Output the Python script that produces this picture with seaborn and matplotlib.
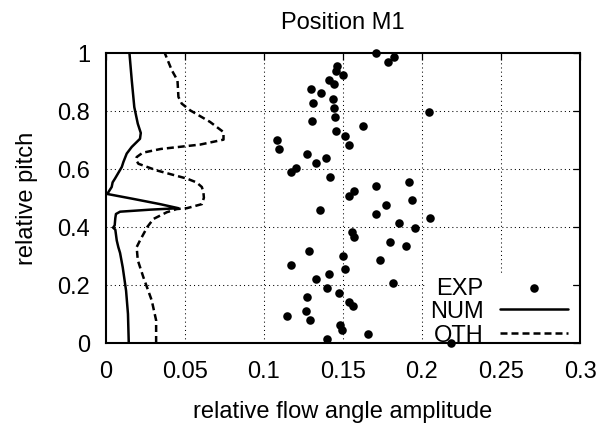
import matplotlib
matplotlib.use('Agg')
import matplotlib.pyplot as plt
import seaborn as sns

# ---- data ----
exp_pitch = [0.000, 0.015, 0.031, 0.046, 0.063, 0.078, 0.094, 0.110, 0.126, 0.142,
             0.157, 0.173, 0.189, 0.206, 0.222, 0.236, 0.254, 0.269, 0.286, 0.301,
             0.317, 0.333, 0.349, 0.364, 0.381, 0.396, 0.412, 0.429, 0.444, 0.459,
             0.476, 0.492, 0.507, 0.523, 0.540, 0.555, 0.573, 0.588, 0.604, 0.619,
             0.636, 0.651, 0.667, 0.683, 0.699, 0.714, 0.731, 0.746, 0.763, 0.778,
             0.794, 0.810, 0.826, 0.841, 0.859, 0.873, 0.890, 0.905, 0.923, 0.936,
             0.955, 0.968, 0.985, 1.000]
exp_amp = [0.2185, 0.1400, 0.1661, 0.1497, 0.1484, 0.1292, 0.1147, 0.1267, 0.1562, 0.1541,
           0.1277, 0.1478, 0.1402, 0.1818, 0.1332, 0.1413, 0.1514, 0.1172, 0.1737, 0.1499,
           0.1288, 0.1902, 0.1796, 0.1569, 0.1558, 0.1957, 0.1858, 0.2054, 0.1712, 0.1358,
           0.1775, 0.1938, 0.1540, 0.1573, 0.1712, 0.1916, 0.1417, 0.1172, 0.1204, 0.1332,
           0.1394, 0.1273, 0.1094, 0.1541, 0.1083, 0.1514, 0.1459, 0.1628, 0.1303, 0.1452,
           0.2047, 0.1446, 0.1313, 0.1438, 0.1362, 0.1300, 0.1446, 0.1415, 0.1503, 0.1459,
           0.1463, 0.1786, 0.1824, 0.1712]

num_pitch = [0.0, 0.10, 0.18, 0.26, 0.31, 0.33, 0.353, 0.39, 0.397, 0.405, 0.43, 0.444,
             0.452, 0.459, 0.464, 0.478, 0.496, 0.513, 0.537, 0.553, 0.566, 0.606, 0.623,
             0.652, 0.675, 0.703, 0.723, 0.755, 0.812, 0.904, 1.0]
num_amp = [0.0147, 0.0142, 0.0130, 0.0109, 0.0092, 0.0081, 0.0071, 0.0062, 0.0048, 0.0058,
           0.0062, 0.0066, 0.0092, 0.0282, 0.0461, 0.0345, 0.0176, 0.0011, 0.0039, 0.0045,
           0.0060, 0.0103, 0.0113, 0.0134, 0.0166, 0.0218, 0.0223, 0.0204, 0.0182, 0.0166,
           0.0151]

oth_pitch = [0.0, 0.078, 0.147, 0.227, 0.285, 0.33, 0.353, 0.40, 0.427, 0.45, 0.461, 0.464,
             0.478, 0.50, 0.519, 0.537, 0.553, 0.566, 0.594, 0.617, 0.630, 0.640, 0.655,
             0.668, 0.683, 0.700, 0.726, 0.761, 0.801, 0.824, 0.847, 0.904, 0.939, 0.995, 1.0]
oth_amp = [0.0320, 0.0320, 0.0292, 0.0239, 0.0204, 0.0197, 0.0218, 0.0265, 0.0303, 0.0387,
           0.0450, 0.0514, 0.0609, 0.0622, 0.0619, 0.0609, 0.0575, 0.0514, 0.0324, 0.0208,
           0.0193, 0.0197, 0.0235, 0.0350, 0.0598, 0.0746, 0.0746, 0.0661, 0.0535, 0.0482,
           0.0461, 0.0455, 0.0419, 0.0377, 0.0374]

x_ticks = [0, 0.05, 0.1, 0.15, 0.2, 0.25, 0.3]
x_tick_labels = ['0', '0.05', '0.1', '0.15', '0.2', '0.25', '0.3']
y_ticks = [0, 0.2, 0.4, 0.6, 0.8, 1]
y_tick_labels = ['0', '0.2', '0.4', '0.6', '0.8', '1']

# ---- style ----
sns.set_theme(style='white')
plt.rcParams['font.family'] = ['Liberation Sans', 'DejaVu Sans']
plt.rcParams.update({'text.color': 'black', 'axes.labelcolor': 'black',
                     'xtick.color': 'black', 'ytick.color': 'black'})
FS = 17

fig = plt.figure(figsize=(6.05, 4.27), dpi=100)
ax = fig.add_axes([0.1744, 0.1944, 0.7843, 0.6803])

# grid (below everything)
for xv in x_ticks[1:-1]:
    ax.axvline(xv, color='black', lw=0.75, ls=(0, (1, 3)), zorder=0.5)
for yv in y_ticks[1:-1]:
    ax.axhline(yv, color='black', lw=0.75, ls=(0, (1, 3)), zorder=0.5)

sns.scatterplot(x=exp_amp, y=exp_pitch, color='black', s=38, linewidth=0,
                ax=ax, label='EXP', zorder=3, clip_on=False)
sns.lineplot(x=num_amp, y=num_pitch, sort=False, estimator=None, color='black',
             lw=1.8, ax=ax, label='NUM')
sns.lineplot(x=oth_amp, y=oth_pitch, sort=False, estimator=None, color='black',
             lw=1.8, linestyle=(0, (2.8, 1.6)), ax=ax, label='OTH')

ax.set_xlim(0, 0.3)
ax.set_ylim(0, 1)
ax.set_xticks(x_ticks)
ax.set_xticklabels(x_tick_labels)
ax.set_yticks(y_ticks)
ax.set_yticklabels(y_tick_labels)
ax.tick_params(direction='in', length=5, width=0.9, top=True, right=True,
               labelsize=FS)
ax.tick_params(axis='x', pad=12.5)
ax.tick_params(axis='y', pad=11)
for sp in ax.spines.values():
    sp.set_color('black')
    sp.set_linewidth(1.5)

ax.set_title('Position M1', fontsize=FS, pad=18)
ax.set_xlabel('relative flow angle amplitude', fontsize=FS, labelpad=13)
ax.set_ylabel('relative pitch', fontsize=FS, labelpad=14)

handles, labels = ax.get_legend_handles_labels()
leg = ax.legend(handles, labels, loc='lower right', bbox_to_anchor=(0.982, -0.023),
                borderaxespad=0, borderpad=0.15, markerfirst=False,
                handlelength=2.88, handletextpad=0.7, labelspacing=0.07,
                frameon=True, fancybox=False, framealpha=1, facecolor='white',
                edgecolor='none', fontsize=FS)
leg.set_zorder(2.2)

fig.savefig('out.png', dpi=100)
